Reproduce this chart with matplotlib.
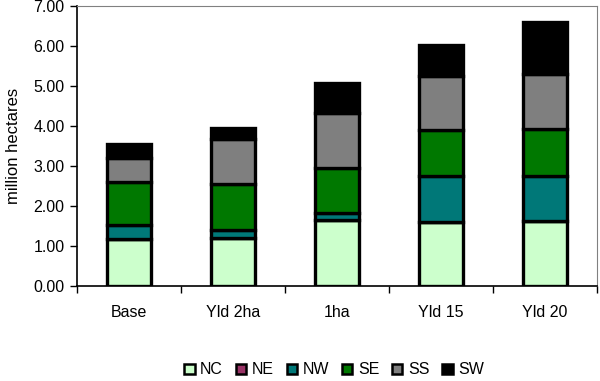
import matplotlib.pyplot as plt
import numpy as np

plt.rcParams['font.family'] = ['Liberation Sans', 'DejaVu Sans']

scenarios = ['Base', 'Yld 2ha', '1ha', 'Yld 15', 'Yld 20']
regions = ['NC', 'NE', 'NW', 'SE', 'SS', 'SW']
nc = [1.18, 1.19, 1.64, 1.60, 1.63]
ne = [0.0, 0.0, 0.0, 0.0, 0.0]
nw = [0.35, 0.22, 0.19, 1.16, 1.13]
se = [1.06, 1.13, 1.13, 1.14, 1.17]
ss = [0.61, 1.13, 1.37, 1.35, 1.37]
sw = [0.35, 0.29, 0.75, 0.78, 1.31]
yticks = [0, 1, 2, 3, 4, 5, 6, 7]

colors = ['#ccffcc', '#993366', '#007878', '#007800', '#7f7f7f', '#000000']
series = [nc, ne, nw, se, ss, sw]

fig = plt.figure(figsize=(6, 3.81), dpi=100)
ax = fig.add_axes([77/600, 1 - 286/381, 520/600, 280/381])

x = np.arange(len(scenarios))
bottom = np.zeros(len(scenarios))
for name, vals, c in zip(regions, series, colors):
    ax.bar(x, vals, 0.42, bottom=bottom, color=c, edgecolor='black',
           linewidth=2.4, label=name)
    bottom += np.array(vals)

ax.set_xlim(-0.5, len(scenarios) - 0.5)
ax.set_ylim(0, 7)
ax.set_yticks(yticks)
ax.set_yticklabels(['%.2f' % v for v in yticks], fontsize=11.5)
ax.set_xticks(x)
ax.set_xticklabels(scenarios, fontsize=11.5)
ax.set_xticks(np.arange(len(scenarios) + 1) - 0.5, minor=True)
ax.tick_params(axis='x', which='major', length=0, pad=14)
ax.tick_params(axis='x', which='minor', length=5, width=1, direction='out')
ax.tick_params(axis='y', length=5, width=1, direction='out', pad=4)
ax.set_ylabel('million hectares', fontsize=12, labelpad=9)

for s in ['top', 'right']:
    ax.spines[s].set_color('#808080')
for s in ['left', 'bottom']:
    ax.spines[s].set_color('black')
    ax.spines[s].set_linewidth(1.2)

leg = fig.legend(loc='center', bbox_to_anchor=(0.557, 1 - 370/381), ncol=6,
                 frameon=False, fontsize=11.5, handlelength=0.65, handleheight=0.65,
                 handletextpad=0.35, columnspacing=0.8)
for h in leg.legend_handles:
    h.set_linewidth(1.8)

fig.savefig('out.png', dpi=100)
